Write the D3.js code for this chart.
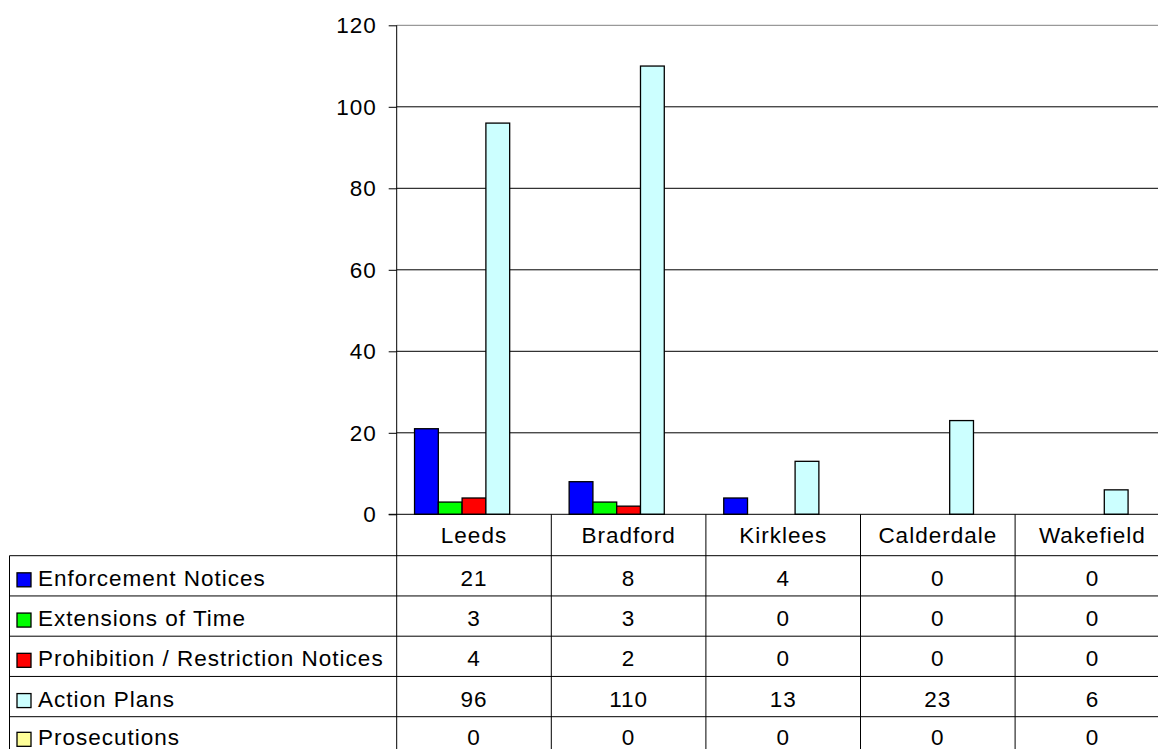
<!DOCTYPE html>
<html>
<head>
<meta charset="utf-8">
<script src="https://cdn.jsdelivr.net/npm/d3@7"></script>
<style>
  html, body { margin: 0; padding: 0; background: #fff; }
  svg { display: block; }
  text { font-family: Arial, "Liberation Sans", sans-serif; font-size: 22.5px; fill: #000; letter-spacing: 1px; }
</style>
</head>
<body>
<svg id="chart" width="1158" height="749"></svg>
<script>
// Regional enforcement activity by district
const districts = ["Leeds", "Bradford", "Kirklees", "Calderdale", "Wakefield"];
const seriesNames = ["Enforcement Notices", "Extensions of Time", "Prohibition / Restriction Notices", "Action Plans", "Prosecutions"];
const enforcementNotices = [21, 8, 4, 0, 0];
const extensionsOfTime = [3, 3, 0, 0, 0];
const prohibitionNotices = [4, 2, 0, 0, 0];
const actionPlans = [96, 110, 13, 23, 6];
const prosecutions = [0, 0, 0, 0, 0];
const seriesColors = ["#0000ff", "#00ff00", "#ff0000", "#ccffff", "#ffff99"];
const yTicks = [0, 20, 40, 60, 80, 100, 120];

const seriesValues = [enforcementNotices, extensionsOfTime, prohibitionNotices, actionPlans, prosecutions];
const series = seriesNames.map((name, i) => ({ name, color: seriesColors[i], values: seriesValues[i] }));

const svg = d3.select("#chart");

// layout
const plotLeft = 396.7, colW = 154.6;
const plotTop = 25.3, plotBottom = 514.3;
const tableLeft = 9.5;
const headerBottom = 555.7;
const rowH = 40.25;

const x0 = d3.scaleBand().domain(districts).range([plotLeft, plotLeft + colW * districts.length]).paddingInner(0).paddingOuter(0);
const x1 = d3.scaleBand().domain(seriesNames).range([0, x0.bandwidth()]).paddingInner(0).paddingOuter(0.75);
const y = d3.scaleLinear().domain([0, 120]).range([plotBottom, plotTop]);

// gridlines (top one sits on the plot edge and renders lighter)
svg.append("g")
  .selectAll("line").data(yTicks.filter(t => t > 0)).join("line")
  .attr("x1", plotLeft).attr("x2", 1158)
  .attr("y1", d => y(d)).attr("y2", d => y(d))
  .attr("stroke", d => d === 120 ? "#808080" : "#000").attr("stroke-width", 1);

// y axis
const yAxis = d3.axisLeft(y).tickValues(yTicks).tickSize(8).tickPadding(12).tickFormat(d3.format("d"));
const gy = svg.append("g").attr("transform", `translate(${plotLeft},0)`).call(yAxis);
gy.select(".domain").remove();
gy.selectAll(".tick line").attr("stroke", "#000");
gy.selectAll(".tick text").style("font-size", "22.5px").style("font-family", "Arial, 'Liberation Sans', sans-serif").attr("fill", "#000");
svg.append("line").attr("x1", plotLeft).attr("x2", plotLeft).attr("y1", plotTop).attr("y2", 749).attr("stroke", "#000");

// bars
const groups = svg.append("g").selectAll("g").data(districts).join("g")
  .attr("transform", d => `translate(${x0(d)},0)`);
groups.selectAll("rect")
  .data((d, i) => series.map(s => ({ key: s.name, color: s.color, value: s.values[i] })).filter(e => e.value > 0))
  .join("rect")
  .attr("x", d => x1(d.key))
  .attr("width", x1.bandwidth())
  .attr("y", d => y(d.value))
  .attr("height", d => y(0) - y(d.value))
  .attr("fill", d => d.color)
  .attr("stroke", "#000").attr("stroke-width", 1.3);

// baseline
svg.append("line").attr("x1", plotLeft - 8).attr("x2", 1158).attr("y1", y(0)).attr("y2", y(0)).attr("stroke", "#000");

// data table
const table = svg.append("g");
// header column separators
table.selectAll(".vsep").data(districts.slice(1).concat(["end"])).join("line")
  .attr("x1", (d, i) => plotLeft + colW * (i + 1)).attr("x2", (d, i) => plotLeft + colW * (i + 1))
  .attr("y1", plotBottom).attr("y2", 749).attr("stroke", "#000");
// left border of legend column
table.append("line").attr("x1", tableLeft).attr("x2", tableLeft).attr("y1", headerBottom).attr("y2", 749).attr("stroke", "#000");
// header bottom line
table.append("line").attr("x1", tableLeft).attr("x2", 1158).attr("y1", headerBottom).attr("y2", headerBottom).attr("stroke", "#000");
// row lines
table.selectAll(".hline").data(series.slice(0, -1)).join("line")
  .attr("x1", tableLeft).attr("x2", 1158)
  .attr("y1", (d, i) => headerBottom + rowH * (i + 1)).attr("y2", (d, i) => headerBottom + rowH * (i + 1))
  .attr("stroke", "#000");

// category labels
table.selectAll(".cat").data(districts).join("text")
  .attr("x", d => x0(d) + x0.bandwidth() / 2)
  .attr("y", (plotBottom + headerBottom) / 2 + 8)
  .attr("text-anchor", "middle")
  .text(d => d);

// legend rows + values
series.forEach((s, i) => {
  const cy = headerBottom + rowH * i + rowH / 2 + 2 - (i === series.length - 1 ? 1.5 : 0);
  table.append("rect")
    .attr("x", 17).attr("y", cy - 5).attr("width", 14).attr("height", 14)
    .attr("fill", s.color).attr("stroke", "#000").attr("stroke-width", 1.3);
  table.append("text").attr("x", 38).attr("y", cy + 8).text(s.name);
  table.selectAll(null).data(s.values).join("text")
    .attr("x", (d, j) => x0(districts[j]) + x0.bandwidth() / 2)
    .attr("y", cy + 8)
    .attr("text-anchor", "middle")
    .text(d => d);
});
</script>
</body>
</html>
